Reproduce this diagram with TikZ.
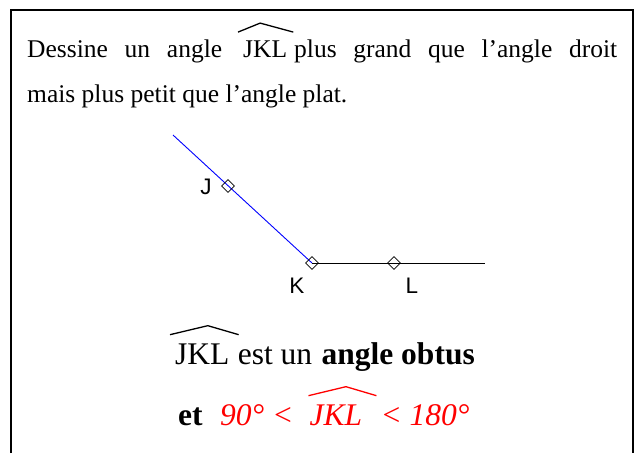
\documentclass[tikz,border=0pt]{standalone}
\usepackage{fontspec}
\setmainfont{Liberation Serif}
\newfontfamily\arialfont{Liberation Sans}
\usepackage{tikz}
\usetikzlibrary{positioning, calc, shapes.geometric}

\begin{document}
\begin{tikzpicture}[
  x=1pt, y=-1pt,
  consigne/.style={inner sep=0pt, anchor=base west, font=\fontsize{25.5}{30}\selectfont},
  bilan/.style={inner sep=0pt, anchor=base west, font=\fontsize{31.5}{36}\selectfont},
  rouge/.style={bilan, text=red, font=\fontsize{31.5}{36}\selectfont\itshape},
  repere/.style={draw, diamond, minimum size=13pt, inner sep=0pt, line width=0.8pt},
  etiquette/.style={inner sep=0pt, font=\arialfont\fontsize{22.5}{26}\selectfont},
  chapeau/.style={line width=1.3pt},
  demidroite/.style={line width=0.9pt},
]
\useasboundingbox (0,0) rectangle (635,453);
\draw[line width=1.6pt] (11,453) -- (11,10) -- (633,10) -- (633,453);

% consigne
\node[consigne] (debut) at (27,57) {\makebox[195pt][s]{Dessine un angle}};
\node[consigne] (jklA) at (243,57) {JKL};
\node[consigne] (fin) at (294,57) {\makebox[323pt][s]{plus grand que l’angle droit}};
\node[consigne] (ligne2) at (27,102) {mais plus petit que l’angle plat.};
\draw[chapeau] ($(jklA.north west)+(-5,-8)$) -- ($(jklA.north)+(-5,-17)$)
            -- ($(jklA.north east)+(6,-8)$);

% figure
\coordinate (origineJ) at (173,135);
\coordinate (finL) at (485,263);
\draw[demidroite, blue] (origineJ) -- (312,263);
\draw[demidroite] (312,263) -- (finL);
\node[repere] (J) at (228,186) {};
\node[repere] (K) at (312,263) {};
\node[repere] (L) at (394,263) {};
\node[etiquette] (labJ) at (206,187) {J};
\node[etiquette] (labK) at (297,286) {K};
\node[etiquette] (labL) at (412,286) {L};

% conclusion
\node[bilan] (jklB) at (175,364) {JKL};
\node[bilan, base right=8pt of jklB] (estun) {est un};
\node[bilan, base right=9pt of estun] (obtus) {\textbf{angle obtus}};
\draw[chapeau] ($(jklB.north west)+(-5,-8.5)$) -- ($(jklB.north)+(5.5,-17.5)$)
            -- ($(jklB.north east)+(9,-8.5)$);

\node[bilan] (et) at (178,425) {\textbf{et}};
\node[rouge, base right=17pt of et] (minimum) {90° <};
\node[rouge, base right=16pt of minimum] (jklC) {JKL};
\node[rouge, base right=18pt of jklC] (maximum) {< 180°};
\draw[chapeau, red] ($(jklC.north west)+(-1,-8.5)$) -- ($(jklC.north)+(10,-17.5)$)
            -- ($(jklC.north east)+(14,-8.5)$);

\end{tikzpicture}
\end{document}
